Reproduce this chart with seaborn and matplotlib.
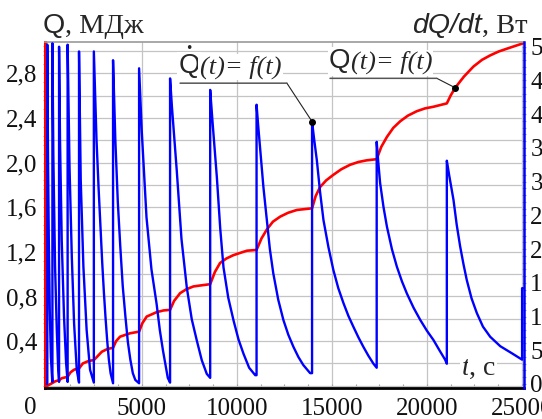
import matplotlib
matplotlib.use("Agg")
import matplotlib.pyplot as plt
from matplotlib.ticker import MultipleLocator, FuncFormatter
import pandas as pd
import seaborn as sns

# ---- data ----
# heat flow dQ/dt, W (right axis): sawtooth of pulses
dq_t = [0, 30, 30, 70, 110, 160, 220, 290,
        300, 300, 350, 440, 530, 600,
        650, 650, 700, 790, 910, 1020,
        1100, 1100, 1200, 1320, 1440, 1580,
        1700, 1700, 1790, 1930, 2100, 2280,
        2480, 2480, 2620, 2730, 2830, 2920, 3010, 3095, 3180, 3270, 3360,
        3490, 3490, 3610, 3740, 3870, 4000, 4140, 4270, 4400, 4530, 4660,
        4860, 4860, 5000, 5250, 5510, 5780, 5950, 6120, 6370,
        6490, 6490, 6590, 6840, 7090, 7370, 7630, 7900, 8160, 8420,
        8600, 8600, 8720, 8950, 9130, 9300, 9550, 9830, 10090, 10350,
        10650, 10970,
        11040, 11040, 11120, 11220, 11400, 11580, 11740, 11920, 12180,
        12450, 12710, 12980, 13240, 13500, 13860,
        13960, 13960, 14060, 14210, 14380, 14560, 14820, 15080, 15340,
        15610, 15870, 16130, 16400, 16660, 16920, 17190,
        17360, 17360, 17440, 17540, 17720, 17900, 18160, 18420, 18690,
        18950, 19300, 19650, 20000, 20350, 20660, 20960,
        21050, 21050, 21170, 21400, 21570, 21750, 21930, 22100, 22350,
        22630, 22950, 23330, 23860, 24500,
        25010, 25010, 25060]
dq_w = [0, 0, 503, 330, 213, 110, 40, 5,
        3, 505, 337, 174, 80, 25,
        3, 500, 362, 213, 100, 31,
        3, 503, 322, 189, 90, 21,
        2, 493, 302, 174, 80, 21,
        2, 493, 362, 290, 233, 180, 135, 98, 65, 36, 16,
        1, 480, 362, 270, 204, 145, 100, 62, 36, 16, 6,
        1, 468, 375, 247, 170, 119, 80, 49, 9,
        2, 453, 410, 317, 215, 143, 96, 64, 35, 15,
        9, 436, 390, 307, 230, 173, 128, 94, 66, 45,
        24, 13,
        13, 414, 385, 352, 292, 243, 200, 164, 125,
        95, 73, 55, 40, 28, 16,
        16, 389, 365, 332, 285, 243, 203, 169, 142,
        120, 101, 85, 69, 55, 42, 30,
        24, 359, 330, 298, 262, 233, 200, 174, 152,
        134, 113, 95, 79, 65, 50, 36,
        30, 331, 310, 273, 236, 204, 177, 154, 127,
        105, 85, 70, 56, 45,
        36, 142, 142]

# accumulated heat Q, MJ (left axis)
q_t = [0, 30, 300, 450, 650, 800, 1100, 1250, 1450, 1700,
       1900, 2200, 2480, 2900, 3200, 3490, 3650, 3860, 4380, 4860,
       5030, 5260, 5790, 6150, 6490, 6700, 7020, 7350, 7720, 8150,
       8600, 8850, 9120, 9450, 9820, 10170, 10530, 11040, 11300, 11580,
       11900, 12280, 12700, 13160, 13960, 14150, 14380, 14700, 15080, 15500,
       15960, 16400, 16840, 17360, 17600, 17900, 18230, 18600, 19000, 19470,
       19900, 20350, 20700, 21050, 21250, 21490, 21950, 22450, 22900, 23330,
       23780, 24210, 24650, 25090]
q_v = [0, 0, 0.025, 0.04, 0.05, 0.068, 0.08, 0.12, 0.145, 0.155,
       0.2, 0.222, 0.23, 0.305, 0.33, 0.34, 0.40, 0.44, 0.47, 0.485,
       0.56, 0.62, 0.66, 0.675, 0.68, 0.76, 0.83, 0.865, 0.89, 0.90,
       0.91, 1.02, 1.10, 1.14, 1.17, 1.19, 1.21, 1.217, 1.32, 1.40,
       1.47, 1.515, 1.55, 1.575, 1.59, 1.70, 1.78, 1.84, 1.89, 1.94,
       1.98, 2.005, 2.02, 2.03, 2.14, 2.23, 2.31, 2.37, 2.42, 2.46,
       2.485, 2.50, 2.515, 2.53, 2.60, 2.67, 2.77, 2.86, 2.92, 2.96,
       2.995, 3.02, 3.045, 3.07]

w_ticks = [0, 50, 100, 150, 200, 250, 300, 350, 400, 450, 500]

# annotated points
q_mark_t = 21490
w_mark_t = 13960

sns.set_style("white")
plt.rcParams['font.family'] = ['Liberation Serif', 'DejaVu Serif']

SANS = 'Liberation Sans'
SERIF = 'Liberation Serif'
FS = 20.5
AFS = 20
TFS = 18

fig = plt.figure(figsize=(5.42, 4.19), dpi=100)
ax = fig.add_axes([45/542, 31/419, 479/542, 346/419])
ax2 = ax.twinx()

df_q = pd.DataFrame({'t': q_t, 'q': q_v})
df_w = pd.DataFrame({'t': dq_t, 'w': dq_w})

sns.lineplot(data=df_q, x='t', y='q', ax=ax, color='#ff0000', lw=1.9,
             estimator=None, sort=False)
sns.lineplot(data=df_w, x='t', y='w', ax=ax2, color='#0000ff', lw=1.7,
             estimator=None, sort=False)

ax.set_xlim(-90, 25110)
ax.set_ylim(-0.02, 3.08)
ax2.set_ylim(-6, 507)
ax.set_xlabel('')
ax.set_ylabel('')
ax2.set_ylabel('')

# grid
ax.yaxis.set_major_locator(MultipleLocator(0.2))
ax.yaxis.set_minor_locator(MultipleLocator(0.08))
ax.xaxis.set_major_locator(MultipleLocator(5000))
ax.xaxis.set_minor_locator(MultipleLocator(1250))
ax.grid(True, which='major', color='#c4c4c4', lw=0.9)
ax.set_axisbelow(True)


def qfmt(v, p):
    k = int(round(v / 0.2))
    if k <= 0 or k % 2:
        return ''
    return f"{v:.1f}".replace('.', ',')


def xfmt(v, p):
    return f"{int(round(v))}" if v > 1 else ''


ax.yaxis.set_major_formatter(FuncFormatter(qfmt))
ax.xaxis.set_major_formatter(FuncFormatter(xfmt))
ax2.set_yticks(w_ticks)
ax2.yaxis.set_minor_locator(MultipleLocator(10))

ax.tick_params(axis='y', which='both', left=True, direction='inout',
               color='#a0a0a0', length=3, width=0.8, labelsize=TFS,
               pad=4, labelcolor='#111111')
ax.tick_params(axis='x', which='both', bottom=True, direction='in',
               color='#a0a0a0', length=3, width=0.8, labelsize=TFS,
               pad=7, labelcolor='#111111')
ax2.tick_params(axis='y', which='both', right=True, direction='inout',
                color='#a0a0a0', length=3, width=0.8, labelsize=TFS,
                pad=3, labelcolor='#111111')
for lab in ax.get_yticklabels() + ax.get_xticklabels() + ax2.get_yticklabels():
    lab.set_family(SERIF)

# spines
ax.spines['left'].set_color('#ff0000')
ax.spines['left'].set_linewidth(2.2)
ax.spines['bottom'].set_color('#000000')
ax.spines['bottom'].set_linewidth(2.0)
ax.spines['top'].set_color('#9a9a9a')
ax.spines['top'].set_linewidth(1.2)
ax.spines['right'].set_visible(False)
for s in ['left', 'bottom', 'top']:
    ax2.spines[s].set_visible(False)
ax2.spines['right'].set_color('#0000ff')
ax2.spines['right'].set_linewidth(1.8)

# axis titles
t1 = fig.text(43/542, 1 - 33/419, 'Q', family=SANS, size=FS,
              ha='left', va='baseline')
ax.annotate(', МДж', xy=(1, 0), xycoords=t1, ha='left', va='bottom',
            family=SERIF, size=FS, annotation_clip=False)
t3 = fig.text(527/542, 1 - 33/419, ', Вт', family=SERIF, size=FS,
              ha='right', va='baseline')
ax.annotate('dQ/dt', xy=(0, 0), xycoords=t3, ha='right', va='bottom',
            family=SANS, style='italic', size=FS, annotation_clip=False)

# "0" at origin corner
ax.text(-0.031, -0.058, '0', transform=ax.transAxes, ha='center',
        va='center', family=SERIF, size=TFS, color='#111111')

# t, c label
box = dict(fc='white', ec='none', pad=1.0)
tt = ax.text(0.870, 0.038, 't', transform=ax.transAxes, family=SERIF,
             style='italic', size=AFS, ha='left', va='baseline', bbox=box,
             zorder=10)
ax.annotate(', с', xy=(1, 0), xycoords=tt, ha='left', va='bottom',
            family=SERIF, size=AFS, bbox=box, zorder=10)

# annotation: dQ/dt = f(t)
wi = dq_t.index(w_mark_t) + 1
ax2.plot([dq_t[wi]], [dq_w[wi]], 'o', color='black', ms=4, zorder=12)
ax2.annotate('', xy=(dq_t[wi], dq_w[wi]), xycoords='data',
             xytext=(0.505, 0.881), textcoords='axes fraction',
             arrowprops=dict(arrowstyle='-', color='#222222', lw=0.8,
                             shrinkA=0, shrinkB=0), zorder=11)
ax2.annotate('', xy=(0.505, 0.881), xycoords='axes fraction',
             xytext=(0.282, 0.881), textcoords='axes fraction',
             arrowprops=dict(arrowstyle='-', color='#555555', lw=1.1,
                             shrinkA=0, shrinkB=0), zorder=11)
qa = ax2.text(0.278, 0.910, 'Q', transform=ax2.transAxes, family=SANS,
              size=AFS, ha='left', va='baseline', bbox=box, zorder=13)
ax2.annotate('(t)= f(t)', xy=(1, 0), xycoords=qa, ha='left', va='bottom',
             family=SERIF, style='italic', size=AFS - 1, bbox=box, zorder=13)
ax2.annotate('•', xy=(0.5, 1.0), xycoords=qa, xytext=(0, -1),
             textcoords='offset points', ha='center', va='bottom',
             size=9, zorder=14, family='DejaVu Sans')

# annotation: Q = f(t)
qi = q_t.index(q_mark_t)
ax2.annotate('', xy=(0.818, 0.895), xycoords='axes fraction',
             xytext=(0.595, 0.895), textcoords='axes fraction',
             arrowprops=dict(arrowstyle='-', color='#555555', lw=1.1,
                             shrinkA=0, shrinkB=0), zorder=11)
ax.annotate('', xy=(q_t[qi], q_v[qi]), xycoords='data',
            xytext=(0.818, 0.895), textcoords='axes fraction',
            arrowprops=dict(arrowstyle='-', color='#222222', lw=0.8,
                            shrinkA=0, shrinkB=0), zorder=11)
ax.plot([q_t[qi]], [q_v[qi]], 'o', color='black', ms=4, zorder=12)
qb = ax2.text(0.593, 0.924, 'Q', transform=ax2.transAxes, family=SANS,
              size=AFS, ha='left', va='baseline', bbox=box, zorder=13)
ax2.annotate('(t)= f(t)', xy=(1, 0), xycoords=qb, ha='left', va='bottom',
             family=SERIF, style='italic', size=AFS - 1, bbox=box, zorder=13)

fig.savefig('out.png', dpi=100)
